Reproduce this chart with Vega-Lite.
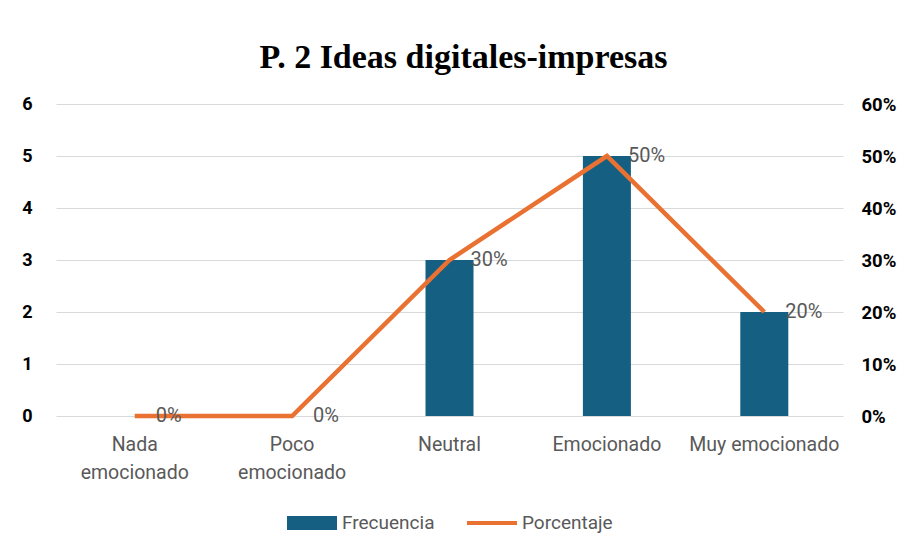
{
  "$schema": "https://vega.github.io/schema/vega-lite/v6.json",
  "width": 787,
  "height": 312,
  "autosize": "none",
  "padding": {"left": 56, "top": 104, "right": 61, "bottom": 134},
  "background": "white",
  "title": {
    "text": "P. 2 Ideas digitales-impresas",
    "font": "Liberation Serif",
    "fontSize": 34,
    "fontWeight": "bold",
    "color": "#000000",
    "anchor": "middle",
    "dx": 14,
    "offset": 20
  },
  "data": {
    "values": [
      {"categoria": "Nada emocionado", "frecuencia": 0, "porcentaje": 0},
      {"categoria": "Poco emocionado", "frecuencia": 0, "porcentaje": 0},
      {"categoria": "Neutral", "frecuencia": 3, "porcentaje": 0.3},
      {"categoria": "Emocionado", "frecuencia": 5, "porcentaje": 0.5},
      {"categoria": "Muy emocionado", "frecuencia": 2, "porcentaje": 0.2}
    ]
  },
  "encoding": {
    "x": {
      "field": "categoria",
      "type": "nominal",
      "sort": null,
      "scale": {"paddingInner": 0.695, "paddingOuter": 0.3475},
      "axis": {
        "title": null,
        "labelAngle": 0,
        "labelExpr": "indexof(datum.label,'Muy')==0 || indexof(datum.label,' ')<0 ? datum.label : split(datum.label,' ')",
        "labelFont": "Roboto",
        "labelFontSize": 19.5,
        "labelColor": "#595959",
        "labelFontWeight": "normal",
        "labelPadding": 19,
        "labelLineHeight": 28,
        "labelLimit": 300,
        "domain": false,
        "ticks": false,
        "grid": false
      }
    }
  },
  "layer": [
    {
      "mark": {"type": "bar", "color": "#156082"},
      "encoding": {
        "y": {
          "field": "frecuencia",
          "type": "quantitative",
          "scale": {"domain": [0, 6]},
          "axis": {
            "title": null,
            "orient": "left",
            "values": [0, 1, 2, 3, 4, 5, 6],
            "labelFont": "Roboto",
            "labelFontWeight": "bold",
            "labelFontSize": 18,
            "labelColor": "#000000",
            "labelPadding": 24,
            "domain": false,
            "ticks": false,
            "grid": true,
            "gridColor": "#d9d9d9",
            "gridWidth": 1
          }
        },
        "color": {
          "datum": "Frecuencia",
          "type": "nominal",
          "scale": {"domain": ["Frecuencia", "Porcentaje"], "range": ["#156082", "#E97132"]},
          "legend": {
            "title": null,
            "orient": "bottom",
            "direction": "horizontal",
            "symbolSize": 2500,
            "labelFont": "Roboto",
            "labelFontSize": 19,
            "labelColor": "#595959",
            "columnPadding": 32,
            "labelOffset": 5,
            "offset": 16,
            "symbolStrokeWidth": 0,
            "encode": {
              "symbols": {
                "update": {
                  "shape": {"signal": "datum.value === 'Frecuencia' ? 'M-1,-0.28H1V0.28H-1Z' : 'M-1,-0.08H1V0.08H-1Z'"},
                  "strokeWidth": {"value": 0}
                }
              }
            }
          }
        }
      }
    },
    {
      "layer": [
        {
          "mark": {"type": "line", "strokeWidth": 4.5, "color": "#E97132"},
          "encoding": {
            "y": {
              "field": "porcentaje",
              "type": "quantitative",
              "scale": {"domain": [0, 0.6]},
              "axis": {
                "title": null,
                "orient": "right",
                "format": ".0%",
                "values": [0, 0.1, 0.2, 0.3, 0.4, 0.5, 0.6],
                "labelFont": "Roboto",
                "labelFontWeight": "bold",
                "labelFontSize": 18.5,
                "labelColor": "#000000",
                "labelPadding": 18,
                "domain": false,
                "ticks": false,
                "grid": false
              }
            },
            "color": {"datum": "Porcentaje", "type": "nominal"}
          }
        },
        {
          "mark": {"type": "text", "align": "left", "baseline": "middle", "dx": 21, "font": "Roboto", "fontSize": 20, "color": "#595959"},
          "encoding": {
            "y": {"field": "porcentaje", "type": "quantitative"},
            "text": {"field": "porcentaje", "type": "quantitative", "format": ".0%"}
          }
        }
      ]
    }
  ],
  "resolve": {"scale": {"y": "independent"}},
  "config": {
    "view": {"stroke": null},
    "legend": {"layout": {"bottom": {"anchor": "middle"}}}
  }
}
